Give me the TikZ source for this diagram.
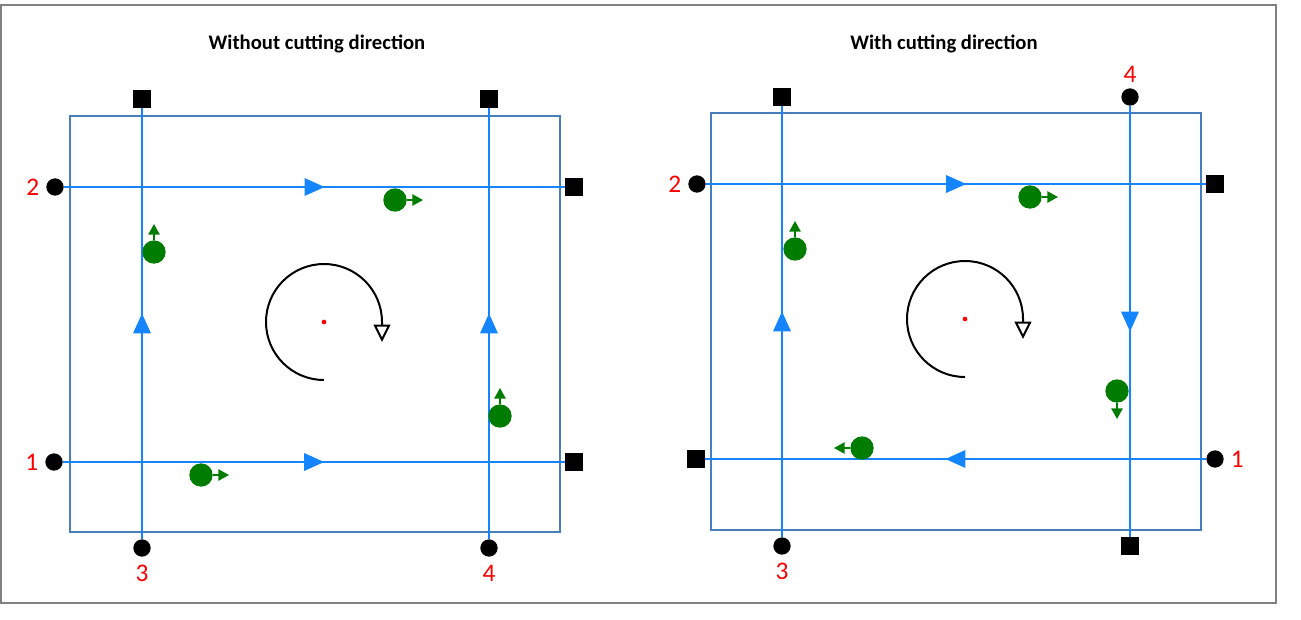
\documentclass[tikz,border=0pt]{standalone}
\usepackage{fontspec}
\setmainfont{Carlito}
\usepackage{xcolor}
\usepackage{tikz}
\usetikzlibrary{arrows.meta,positioning,decorations.markings}

\definecolor{lineblue}{RGB}{20,132,255}
\definecolor{boxblue}{RGB}{74,126,187}
\definecolor{partgreen}{RGB}{0,125,0}
\definecolor{framegray}{RGB}{128,128,128}

\begin{document}
\begin{tikzpicture}[
    x=0.75pt, y=-0.75pt,
    title/.style={font=\fontsize{15.5}{18}\selectfont\bfseries},
    lbl/.style={text=red, inner sep=0pt, font=\fontsize{19}{20}\selectfont},
    dot/.style={circle, fill=black, inner sep=0pt, minimum size=13pt},
    sq/.style={rectangle, fill=black, inner sep=0pt, minimum size=12.8pt},
    part/.style={circle, fill=partgreen, inner sep=0pt, minimum size=17.5pt},
    partarr/.style={-{Triangle[length=8pt,width=8.5pt]}, line width=1.2pt, partgreen},
    toolpath/.style={
      lineblue, line width=0.9pt, postaction={decorate},
      decoration={markings, mark=at position 0.5 with
        {\fill[lineblue] (7.5pt,0) -- (-7.5pt,6.75pt) -- (-7.5pt,-6.75pt) -- cycle;}}
    },
    boxline/.style={draw=boxblue, line width=0.9pt},
    rotarr/.style={-{Triangle[open,length=13pt,width=12.5pt]}, line width=1.5pt},
    center/.style={circle, fill=red, inner sep=0pt, minimum size=3.5pt}
  ]
    \useasboundingbox (0,0) rectangle (1301,619);
    \draw[framegray, line width=0.8pt] (1,5) rectangle (1276,603);

    % Left panel
    \node[title] (tl) at (317,44) {Without cutting direction};
    \draw[boxline] (70,116) rectangle (560,532);

    \node[dot] (l1dot) at (54,462) {};
    \node[sq]  (l1sq)  at (574,462) {};
    \node[dot] (l2dot) at (55,187) {};
    \node[sq]  (l2sq)  at (574,187) {};
    \node[dot] (l3dot) at (142,548) {};
    \node[sq]  (l3sq)  at (142,99) {};
    \node[dot] (l4dot) at (489,548) {};
    \node[sq]  (l4sq)  at (489,99) {};

    \node[lbl, left=5pt of l1dot] {1};
    \node[lbl, left=5pt of l2dot] {2};
    \node[lbl, below=6pt of l3dot] {3};
    \node[lbl, below=6pt of l4dot] {4};

    \draw[toolpath] (l1dot) -- (l1sq);
    \draw[toolpath] (l2dot) -- (l2sq);
    \draw[toolpath] (l3dot) -- (l3sq);
    \draw[toolpath] (l4dot) -- (l4sq);

    \node[part] (lp1) at (395,200) {};
    \node[part] (lp2) at (154,252) {};
    \node[part] (lp3) at (500,416) {};
    \node[part] (lp4) at (201,475) {};
    \draw[partarr] (lp1) -- ++(28,0);
    \draw[partarr] (lp2) -- ++(0,-28);
    \draw[partarr] (lp3) -- ++(0,-28);
    \draw[partarr] (lp4) -- ++(28,0);

    % Rotation
    \node[center] (lc) at (324,322) {};
    \draw[rotarr] (lc) ++(0,58) arc[start angle=90, end angle=360, radius=58] -- ++(0,20);

    % Right panel
    \node[title] (tr) at (944,44) {With cutting direction};
    \draw[boxline] (711,113) rectangle (1201,530);

    \node[dot] (r1dot) at (1215,459) {};
    \node[sq]  (r1sq)  at (696,459) {};
    \node[dot] (r2dot) at (697,184) {};
    \node[sq]  (r2sq)  at (1215,184) {};
    \node[dot] (r3dot) at (782,546) {};
    \node[sq]  (r3sq)  at (782,97) {};
    \node[dot] (r4dot) at (1130,97) {};
    \node[sq]  (r4sq)  at (1130,546) {};

    \node[lbl, right=5pt of r1dot] {1};
    \node[lbl, left=5pt of r2dot] {2};
    \node[lbl, below=6pt of r3dot] {3};
    \node[lbl, above=4pt of r4dot] {4};

    \draw[toolpath] (r1dot) -- (r1sq);
    \draw[toolpath] (r2dot) -- (r2sq);
    \draw[toolpath] (r3dot) -- (r3sq);
    \draw[toolpath] (r4dot) -- (r4sq);

    \node[part] (rp1) at (1030,197) {};
    \node[part] (rp2) at (795,249) {};
    \node[part] (rp3) at (1117,391) {};
    \node[part] (rp4) at (862,448) {};
    \draw[partarr] (rp1) -- ++(28,0);
    \draw[partarr] (rp2) -- ++(0,-28);
    \draw[partarr] (rp3) -- ++(0,28);
    \draw[partarr] (rp4) -- ++(-28,0);

    % Rotation
    \node[center] (rc) at (965,319) {};
    \draw[rotarr] (rc) ++(0,58) arc[start angle=90, end angle=360, radius=58] -- ++(0,20);
  \end{tikzpicture}
\end{document}
